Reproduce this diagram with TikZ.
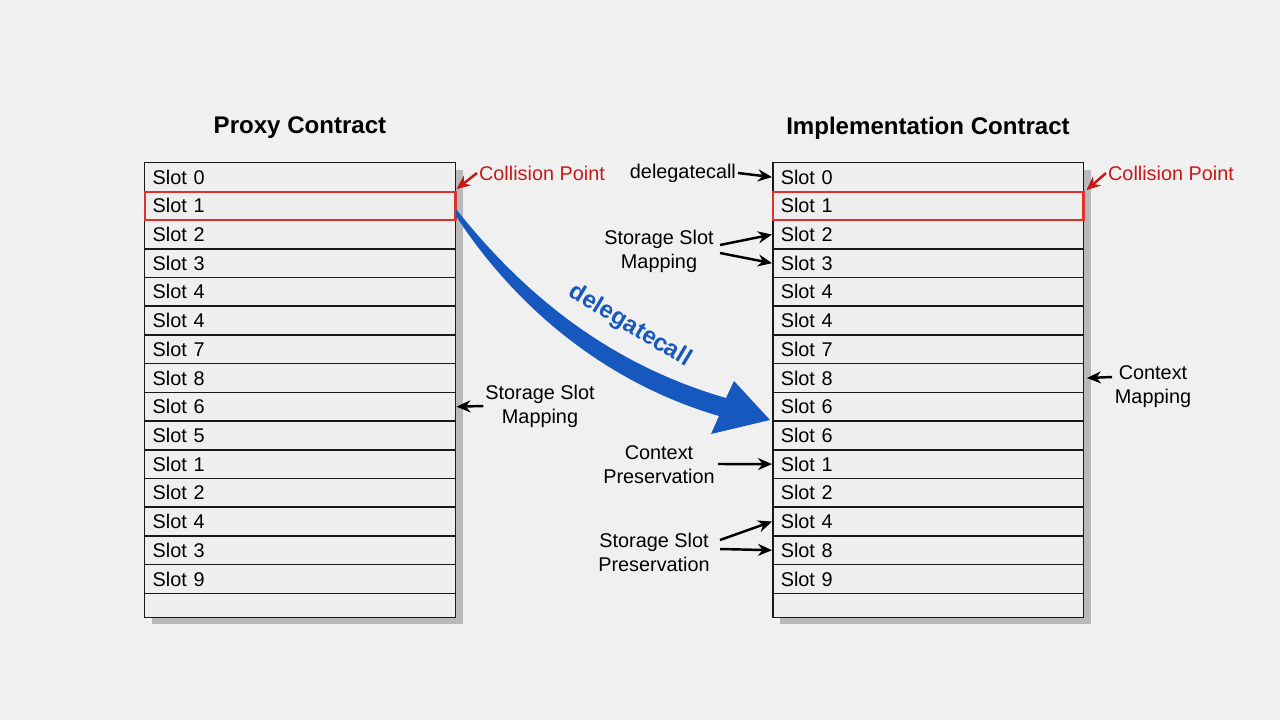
\documentclass[tikz,border=0pt]{standalone}
\usepackage{fontspec}
\setmainfont{Liberation Sans}
\usetikzlibrary{arrows.meta,fit}
\definecolor{bgc}{RGB}{240,240,240}
\definecolor{cellc}{RGB}{239,239,239}
\definecolor{shadowc}{RGB}{185,185,187}
\definecolor{redc}{RGB}{200,25,25}
\definecolor{redbox}{RGB}{222,50,45}
\definecolor{bluec}{RGB}{22,88,190}
\tikzset{
  cell/.style={draw=black!90, line width=0.85pt, fill=cellc, minimum width=6.22cm, minimum height=0.574cm,
    text width=5.9cm, align=left, inner xsep=0.16cm, inner ysep=0pt, anchor=north west,
    font=\fontsize{11.3pt}{13.5pt}\selectfont},
  lastcell/.style={cell, minimum height=0.48cm},
  lbl/.style={font=\fontsize{11.3pt}{13.7pt}\selectfont, align=center, inner sep=1pt},
  redlbl/.style={lbl, text=redc},
  title/.style={font=\fontsize{13.7pt}{16pt}\selectfont\bfseries},
  blackarrow/.style={line width=1.4pt, -{Stealth[length=0.28cm,width=0.24cm]}},
  redarrow/.style={line width=1.4pt, draw=redc, -{Stealth[length=0.28cm,width=0.24cm]}},
  redframe/.style={draw=redbox, line width=1.3pt, inner sep=-0.02cm},
}
\begin{document}
\begin{tikzpicture}[x=0.02cm,y=-0.02cm]
\fill[bgc] (0,0) rectangle (1280,720);
\useasboundingbox (0,0) rectangle (1280,720);
% shadows
\fill[shadowc] (152,170) rectangle (463,624);
\fill[shadowc] (780,170) rectangle (1091,624);
% titles
\node[title] (tL) at (300,128) {Proxy Contract};
\node[title] (tR) at (928,128) {Implementation Contract};
% left table
\foreach \t [count=\i from 0] in {Slot 0,Slot 1,Slot 2,Slot 3,Slot 4,Slot 4,Slot 7,Slot 8,Slot 6,Slot 5,Slot 1,Slot 2,Slot 4,Slot 3,Slot 9}
  \node[cell] (L\i) at (144,{162+\i*28.7}) {\t};
\node[lastcell] (L15) at (144,{162+15*28.7}) {};
% right table
\foreach \t [count=\i from 0] in {Slot 0,Slot 1,Slot 2,Slot 3,Slot 4,Slot 4,Slot 7,Slot 8,Slot 6,Slot 6,Slot 1,Slot 2,Slot 4,Slot 8,Slot 9}
  \node[cell] (R\i) at (772,{162+\i*28.7}) {\t};
\node[lastcell] (R15) at (772,{162+15*28.7}) {};
% red frames
\node[redframe, fit=(L1)] (fL) {};
\node[redframe, fit=(R1)] (fR) {};
% collision labels
\node[redlbl, anchor=west] (cpL) at (477,173) {Collision Point};
\node[redlbl, anchor=west] (cpR) at (1106,173) {Collision Point};
\draw[redarrow] (cpL.west) -- ([yshift=0.06cm]L0.south east);
\draw[redarrow] (cpR.west) -- ([xshift=0.04cm,yshift=0.04cm]R0.south east);
% right-side labels
\node[lbl, anchor=east] (dc) at (738,173) {delegatecall};
\draw[blackarrow] (dc.east) -- (R0.west);
\node[lbl] (ssm1) at (659,251) {Storage Slot\\Mapping};
\coordinate (a1) at (720,245);
\coordinate (a2) at (720,253);
\draw[blackarrow] (a1) -- (R2.west);
\draw[blackarrow] (a2) -- (R3.west);
\node[lbl] (ssm0) at (540,406) {Storage Slot\\Mapping};
\draw[blackarrow] (ssm0.west) -- (L8.east);
\node[lbl] (cm) at (1153,387) {Context\\Mapping};
\coordinate (a3) at (1112,377);
\draw[blackarrow] (a3) -- ([xshift=0.05cm]R7.east);
\node[lbl] (cp) at (659,465) {Context\\Preservation};
\coordinate (a4) at (718,464);
\draw[blackarrow] (a4) -- (R10.west);
\node[lbl] (ssp) at (654,552) {Storage Slot\\Preservation};
\coordinate (a5) at (720,540);
\coordinate (a6) at (720,549);
\draw[blackarrow] (a5) -- (R12.west);
\draw[blackarrow] (a6) -- (R13.west);
% big blue arrow
\fill[bluec] (456,209) .. controls (528,300) and (615,366) .. (726,398)
  -- (734,381) -- (770,420) -- (711,434) -- (719,416)
  .. controls (603,382) and (514,305) .. (456,216) -- cycle;
\node[font=\fontsize{13.7pt}{16pt}\selectfont\bfseries, text=bluec, rotate=-31] (dlg) at (630,326) {delegatecall};
\end{tikzpicture}
\end{document}
